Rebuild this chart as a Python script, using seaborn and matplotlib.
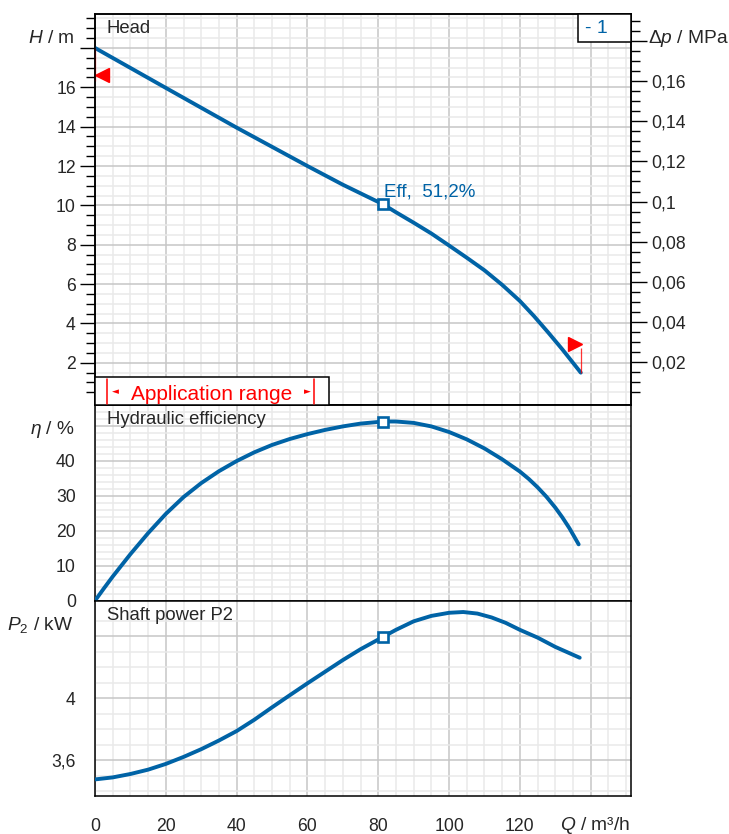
import numpy as np
import pandas as pd
import seaborn as sns
import matplotlib.pyplot as plt
from matplotlib.ticker import FixedLocator, FuncFormatter
from matplotlib.patches import Rectangle

# --- values ---
head_q = [0, 20, 40, 60, 70, 81.4, 85, 90, 95, 100, 105, 110, 115, 120, 124, 128, 132, 137.2]
head_h = [18.0, 15.97, 13.95, 12.0, 11.05, 10.05, 9.65, 9.12, 8.57, 7.96, 7.34, 6.7,
          5.96, 5.14, 4.37, 3.54, 2.68, 1.5]

eff_q = [0, 2.5, 5, 10, 15, 20, 25, 30, 35, 40, 45, 50, 55, 60, 65, 70, 75, 81.4,
         85, 90, 95, 100, 105, 110, 115, 120, 122.5, 125, 127.5, 130, 132, 134, 136.6]
eff_pct = [0, 3.5, 6.9, 13.3, 19.3, 24.8, 29.6, 33.6, 37.0, 39.9, 42.4, 44.5, 46.2,
           47.6, 48.8, 49.8, 50.6, 51.2, 51.2, 50.8, 49.8, 48.2, 46.1, 43.5, 40.4, 36.9,
           34.8, 32.4, 29.7, 26.6, 23.8, 20.7, 16.1]

pow_q = [0, 5, 10, 15, 20, 25, 30, 35, 40, 45, 50, 55, 60, 65, 70, 75, 81.4, 85, 90, 95,
         100, 104, 108, 112, 116, 120, 125, 130, 136.9]
pow_kw = [3.475, 3.488, 3.51, 3.538, 3.575, 3.62, 3.67, 3.726, 3.787, 3.86, 3.94, 4.018,
          4.095, 4.17, 4.245, 4.315, 4.395, 4.44, 4.495, 4.53, 4.55, 4.555, 4.545, 4.52,
          4.485, 4.44, 4.39, 4.33, 4.26]

# duty point
bep_q = 81.4
bep_h = 10.05
bep_eff = 51.2
bep_p = 4.395

# red limit markers (triangles + thin lines)
lim_tri_q = [2.05, 135.6]
lim_tri_h = [16.62, 2.95]
lim_line_q = [0, 137.4]
lim_line_top = [18.0, 2.74]
lim_line_bot = [16.3, 1.5]

MPA_PER_M = 0.00981

blue = "#0063a6"
red = "#ff0000"

sns.set_style("white")
plt.rcParams["font.family"] = ["Liberation Sans", "DejaVu Sans"]
plt.rcParams["mathtext.fontset"] = "custom"
plt.rcParams["mathtext.rm"] = "Liberation Sans"
plt.rcParams["mathtext.it"] = "Liberation Sans:italic"

W, H = 729, 834
fig = plt.figure(figsize=(W / 100, H / 100), dpi=100)


def box(x0, y0, x1, y1):
    # pixel box (top-left origin) -> figure fraction rect
    return [x0 / W, 1 - y1 / H, (x1 - x0) / W, (y1 - y0) / H]


def fx(x):
    return x / W


def fy(y):
    return 1 - y / H


ax_h = fig.add_axes(box(95, 14.3, 630.7, 404.7))
ax_e = fig.add_axes(box(95, 404.7, 630.7, 600.7))
ax_p = fig.add_axes(box(95, 600.7, 630.7, 796))


def comma_fmt(hide):
    def f(v, pos):
        if any(abs(v - h) < 1e-9 for h in hide):
            return ""
        return f"{v:g}".replace(".", ",")
    return FuncFormatter(f)


TICK_FS = 12.7
TITLE_FS = 13.3
LABEL_FS = 13.8

# common styling for all three panels
for ax in (ax_h, ax_e, ax_p):
    ax.set_xlim(0, 151.3)
    ax.xaxis.set_major_locator(FixedLocator(np.arange(0, 141, 20)))
    ax.xaxis.set_minor_locator(FixedLocator(np.arange(0, 151, 5)))
    ax.set_axisbelow(True)
    ax.grid(which="major", color="#c6c6c6", lw=1.1)
    ax.grid(which="minor", color="#e9e9e9", lw=1.1)
    for s in ax.spines.values():
        s.set_color("black")
        s.set_linewidth(1.1)
    ax.tick_params(axis="y", which="major", direction="out", length=10.8, width=1.0,
                   pad=3, labelsize=TICK_FS, color="black")
    ax.tick_params(axis="y", which="minor", direction="out", length=6.5, width=1.0,
                   color="black")

for ax in (ax_h, ax_e):
    ax.tick_params(axis="x", which="both", length=0, labelbottom=False)

ax_p.tick_params(axis="x", which="major", direction="out", length=10, width=1.0,
                 pad=5.5, labelsize=TICK_FS, color="black")
ax_p.tick_params(axis="x", which="minor", direction="out", length=5.8, width=1.0,
                 color="black")
ax_p.xaxis.set_major_formatter(comma_fmt([140]))

# --- head panel ---
sns.lineplot(x=head_q, y=head_h, ax=ax_h, color=blue, lw=2.8, sort=False, zorder=3)
ax_h.plot([bep_q], [bep_h], marker="s", ms=7, mfc="white", mec=blue, mew=1.9, zorder=4)
ax_h.annotate(f"Eff.  {bep_eff:.1f}%".replace(".", ","), xy=(bep_q, bep_h),
              xytext=(0.5, 8.6), textcoords="offset points", color=blue,
              fontsize=13.5, va="center", ha="left", zorder=5)
ax_h.set_ylim(-0.13, 19.71)
ax_h.yaxis.set_major_locator(FixedLocator(np.arange(2, 19, 2)))
ax_h.yaxis.set_minor_locator(FixedLocator(np.arange(0.5, 19.6, 0.5)))
ax_h.yaxis.set_major_formatter(comma_fmt([18]))

ax_h.plot([lim_tri_q[0]], [lim_tri_h[0]], marker="<", ms=10.5, color=red, ls="none",
          zorder=6, clip_on=False)
ax_h.plot([lim_tri_q[1]], [lim_tri_h[1]], marker=">", ms=10.5, color=red, ls="none",
          zorder=6, clip_on=False)
ax_h.vlines(lim_line_q, lim_line_bot, lim_line_top, color=red, lw=0.9, alpha=0.8,
            zorder=6, clip_on=False)
ax_h.set_xlabel("")
ax_h.set_ylabel("")

ax_dp = ax_h.twinx()
ax_dp.set_ylim(np.array(ax_h.get_ylim()) * MPA_PER_M)
ax_dp.yaxis.set_major_locator(FixedLocator(np.arange(0.02, 0.181, 0.02)))
ax_dp.yaxis.set_minor_locator(FixedLocator(np.arange(0.005, 0.1935, 0.005)))
ax_dp.yaxis.set_major_formatter(comma_fmt([0.18]))
ax_dp.tick_params(axis="y", which="major", direction="out", length=11.5, width=1.0,
                  pad=3, labelsize=TICK_FS, color="black")
ax_dp.tick_params(axis="y", which="minor", direction="out", length=6.5, width=1.0,
                  color="black")
ax_dp.grid(False)
for s in ax_dp.spines.values():
    s.set_color("black")
    s.set_linewidth(1.1)

# --- efficiency panel ---
sns.lineplot(x=eff_q, y=eff_pct, ax=ax_e, color=blue, lw=2.8, sort=False, zorder=3)
ax_e.plot([bep_q], [bep_eff], marker="s", ms=7, mfc="white", mec=blue, mew=1.9, zorder=4)
ax_e.set_ylim(0, 56)
ax_e.yaxis.set_major_locator(FixedLocator(np.arange(0, 51, 10)))
ax_e.yaxis.set_minor_locator(FixedLocator(np.arange(2, 55, 2)))
ax_e.yaxis.set_major_formatter(comma_fmt([50]))
ax_e.set_xlabel("")
ax_e.set_ylabel("")

# --- shaft power panel ---
sns.lineplot(x=pow_q, y=pow_kw, ax=ax_p, color=blue, lw=2.8, sort=False, zorder=3)
ax_p.plot([bep_q], [bep_p], marker="s", ms=7, mfc="white", mec=blue, mew=1.9, zorder=4)
ax_p.set_ylim(3.368, 4.628)
ax_p.yaxis.set_major_locator(FixedLocator([3.6, 4.0, 4.4]))
ax_p.yaxis.set_minor_locator(FixedLocator(np.arange(3.4, 4.55, 0.1)))
ax_p.yaxis.set_major_formatter(comma_fmt([4.4]))
ax_p.yaxis.get_major_ticks()[2].tick1line.set_markersize(6.5)
ax_p.set_xlabel("")
ax_p.set_ylabel("")

# --- panel titles and axis labels ---
fig.text(fx(106.7), fy(28.3), "Head", fontsize=TITLE_FS, va="center", ha="left")
fig.text(fx(106.7), fy(420), "Hydraulic efficiency", fontsize=TITLE_FS, va="center", ha="left")
fig.text(fx(106.7), fy(615), "Shaft power P2", fontsize=TITLE_FS, va="center", ha="left")

fig.text(fx(75), fy(38.3), r"$H$ / m", fontsize=LABEL_FS, va="center", ha="right")
fig.text(fx(75), fy(430), r"$\eta$ / %", fontsize=LABEL_FS, va="center", ha="right")
fig.text(fx(73), fy(625), r"$P_2$ / kW", fontsize=LABEL_FS, va="center", ha="right")
fig.text(fx(648), fy(38.3), r"$\mathit{\Delta}p$ / MPa", fontsize=LABEL_FS, va="center",
         ha="left")
fig.text(fx(595), fy(829.5), r"$Q$ / m³/h", fontsize=LABEL_FS, va="baseline", ha="center")

# curve id box, top right
fig.add_artist(Rectangle((fx(578.3), fy(42.3)), fx(630.7) - fx(578.3), fy(14.3) - fy(42.3),
                         transform=fig.transFigure, facecolor="white", edgecolor="black",
                         lw=1.1, zorder=5))
fig.text(fx(585), fy(28.5), "- 1", color=blue, fontsize=14, va="center", ha="left",
         zorder=6)

# application range box
fig.add_artist(Rectangle((fx(95), fy(404.7)), fx(329.3) - fx(95), fy(376.7) - fy(404.7),
                         transform=fig.transFigure, facecolor="white", edgecolor="black",
                         lw=1.1, zorder=5))
for xb in (106.7, 314.3):
    fig.add_artist(plt.Line2D([fx(xb), fx(xb)], [fy(379), fy(404)], color=red, lw=1.1,
                              transform=fig.transFigure, zorder=6))
fig.text(fx(115), fy(391.5), "◄", color=red, fontsize=6.5, va="center", ha="center",
         family=["DejaVu Sans"], zorder=6)
fig.text(fx(307.5), fy(391.5), "►", color=red, fontsize=6.5, va="center", ha="center",
         family=["DejaVu Sans"], zorder=6)
fig.text(fx(211.7), fy(400), "Application range", color=red, fontsize=15,
         va="baseline", ha="center", zorder=6)

fig.savefig("out.png", dpi=100)
